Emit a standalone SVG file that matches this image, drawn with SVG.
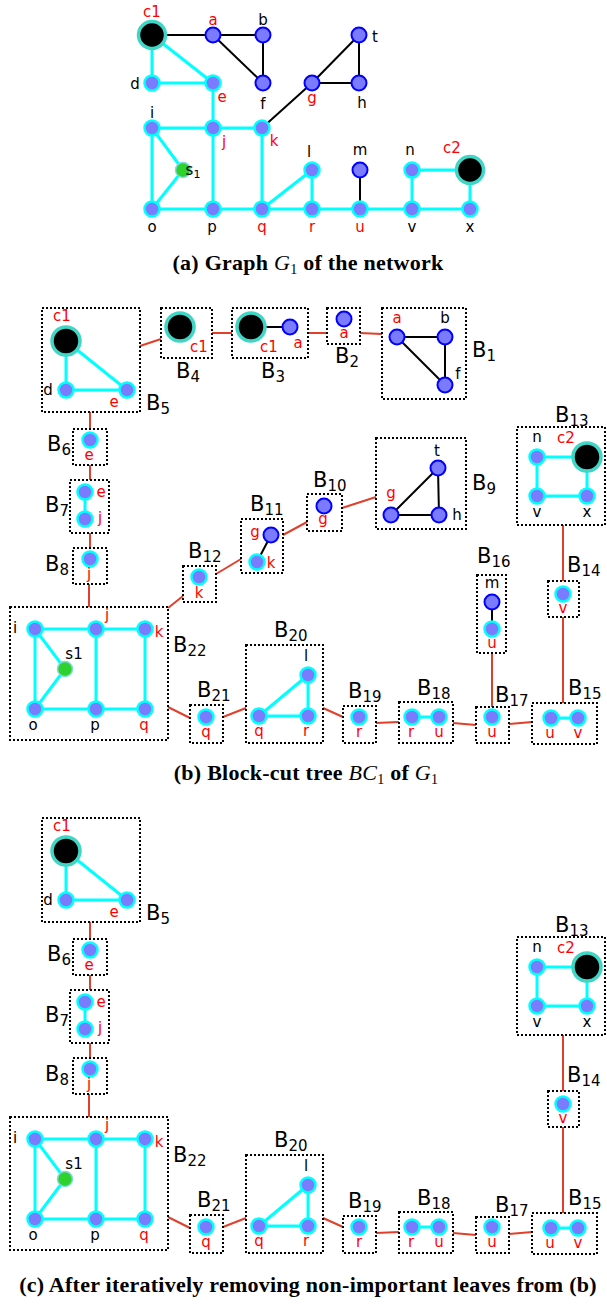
<svg xmlns="http://www.w3.org/2000/svg" width="607" height="1304" viewBox="0 0 607 1304">
<style>
.ce{stroke:#00ffff;stroke-width:3;fill:none}
.be{stroke:#000;stroke-width:2;fill:none}
.nb{fill:#7b7bff;stroke:#0000ff;stroke-width:2}
.nc{fill:#7b7bff;stroke:#00ffff;stroke-width:2.5}
.big{fill:#000;stroke:#3fd6c6;stroke-width:3.5}
.grn{fill:#2ed12e;stroke:#80d8d8;stroke-width:1.5}
.box{fill:none;stroke:#000;stroke-width:2;stroke-dasharray:2 2}
.rc{stroke:#e0402a;stroke-width:2;fill:none}
.lb{font-family:"DejaVu Sans",sans-serif;font-size:15px;fill:#000;text-anchor:middle}
.r{fill:#ff0000}
.bl{font-family:"DejaVu Sans",sans-serif;font-size:21px;fill:#000}
.cap{font-family:"Liberation Serif",serif;font-weight:bold;font-size:22px;letter-spacing:0.25px;text-anchor:middle;fill:#000}
.it{font-style:italic;font-weight:normal}
</style>

<!-- Part (a) -->
<g id="a-edges">
<line class="be" x1="152" y1="35" x2="213" y2="35"/>
<line class="be" x1="213" y1="35" x2="263" y2="35"/>
<line class="be" x1="213" y1="35" x2="263" y2="83"/>
<line class="be" x1="263" y1="35" x2="263" y2="83"/>
<line class="be" x1="312" y1="83" x2="359" y2="35"/>
<line class="be" x1="312" y1="83" x2="359" y2="83"/>
<line class="be" x1="359" y1="35" x2="359" y2="83"/>
<line class="be" x1="312" y1="83" x2="262" y2="128"/>
<line class="be" x1="360" y1="170" x2="360" y2="209"/>
<line class="ce" x1="152" y1="35" x2="152" y2="83"/>
<line class="ce" x1="152" y1="35" x2="213" y2="83"/>
<line class="ce" x1="152" y1="83" x2="213" y2="83"/>
<line class="ce" x1="213" y1="83" x2="213" y2="128"/>
<line class="ce" x1="152" y1="128" x2="262" y2="128"/>
<line class="ce" x1="152" y1="128" x2="152" y2="209"/>
<line class="ce" x1="152" y1="128" x2="183" y2="170"/>
<line class="ce" x1="152" y1="209" x2="183" y2="170"/>
<line class="ce" x1="213" y1="128" x2="213" y2="209"/>
<line class="ce" x1="262" y1="128" x2="262" y2="209"/>
<line class="ce" x1="152" y1="209" x2="470" y2="209"/>
<line class="ce" x1="262" y1="209" x2="312" y2="170"/>
<line class="ce" x1="312" y1="170" x2="312" y2="209"/>
<line class="ce" x1="412" y1="170" x2="412" y2="209"/>
<line class="ce" x1="412" y1="170" x2="470" y2="170"/>
<line class="ce" x1="470" y1="170" x2="470" y2="209"/>
</g>
<g id="a-c1"><circle class="big" cx="152" cy="35" r="13.5"/><text class="lb r" x="152" y="17" font-size="17">c1</text></g>
<g id="a-a"><circle class="nb" cx="213" cy="35" r="7.5"/><text class="lb r" x="213" y="25">a</text></g>
<g id="a-b"><circle class="nb" cx="263" cy="35" r="7.5"/><text class="lb" x="263" y="25">b</text></g>
<g id="a-f"><circle class="nb" cx="263" cy="83" r="7.5"/><text class="lb" x="263" y="109">f</text></g>
<g id="a-d"><circle class="nc" cx="152" cy="83" r="7.5"/><text class="lb" x="135" y="89">d</text></g>
<g id="a-e"><circle class="nc" cx="213" cy="83" r="7.5"/><text class="lb r" x="222" y="102">e</text></g>
<g id="a-t"><circle class="nb" cx="359" cy="35" r="7.5"/><text class="lb" x="375" y="42">t</text></g>
<g id="a-g"><circle class="nb" cx="312" cy="83" r="7.5"/><text class="lb r" x="312" y="103">g</text></g>
<g id="a-h"><circle class="nb" cx="359" cy="83" r="7.5"/><text class="lb" x="362" y="108">h</text></g>
<g id="a-i"><circle class="nc" cx="152" cy="128" r="7.5"/><text class="lb" x="152" y="118">i</text></g>
<g id="a-j"><circle class="nc" cx="213" cy="128" r="7.5"/><text class="lb r" x="224" y="147">j</text></g>
<g id="a-k"><circle class="nc" cx="262" cy="128" r="7.5"/><text class="lb r" x="274" y="146">k</text></g>
<g id="a-s1"><circle class="grn" cx="183" cy="170" r="7.5"/><text class="lb" x="193" y="175" text-anchor="start">s<tspan font-size="11" dy="3">1</tspan></text></g>
<g id="a-l"><circle class="nc" cx="312" cy="170" r="7.5"/><text class="lb" x="309" y="157">l</text></g>
<g id="a-m"><circle class="nb" cx="360" cy="170" r="7.5"/><text class="lb" x="360" y="155">m</text></g>
<g id="a-n"><circle class="nc" cx="412" cy="170" r="7.5"/><text class="lb" x="410" y="155">n</text></g>
<g id="a-c2"><circle class="big" cx="470" cy="170" r="13.5"/><text class="lb r" x="452" y="153" font-size="17">c2</text></g>
<g id="a-o"><circle class="nc" cx="152" cy="209" r="7.5"/><text class="lb" x="152" y="232">o</text></g>
<g id="a-p"><circle class="nc" cx="213" cy="209" r="7.5"/><text class="lb" x="212" y="232">p</text></g>
<g id="a-q"><circle class="nc" cx="262" cy="209" r="7.5"/><text class="lb r" x="262" y="232">q</text></g>
<g id="a-r"><circle class="nc" cx="312" cy="209" r="7.5"/><text class="lb r" x="312" y="232">r</text></g>
<g id="a-u"><circle class="nc" cx="360" cy="209" r="7.5"/><text class="lb r" x="360" y="232">u</text></g>
<g id="a-v"><circle class="nc" cx="412" cy="209" r="7.5"/><text class="lb" x="412" y="232">v</text></g>
<g id="a-x"><circle class="nc" cx="470" cy="209" r="7.5"/><text class="lb" x="470" y="232">x</text></g>
<text class="cap" x="308" y="270">(a) Graph <tspan class="it">G</tspan><tspan font-size="14" font-weight="normal" dy="4">1</tspan><tspan dy="-4"> of the network</tspan></text>

<!-- Part (b) -->
<g id="b-connectors">
<line class="rc" x1="140" y1="346" x2="161" y2="339"/>
<line class="rc" x1="212" y1="333" x2="232" y2="333"/>
<line class="rc" x1="308" y1="333" x2="327" y2="333"/>
<line class="rc" x1="360" y1="333" x2="382" y2="334"/>
<line class="rc" x1="90" y1="412" x2="90" y2="429"/>
<line class="rc" x1="90" y1="465" x2="90" y2="480"/>
<line class="rc" x1="90" y1="533" x2="90" y2="548"/>
<line class="rc" x1="89" y1="584" x2="89" y2="607"/>
<line class="rc" x1="168" y1="608" x2="183" y2="596"/>
<line class="rc" x1="216" y1="574" x2="241" y2="559"/>
<line class="rc" x1="283" y1="535" x2="307" y2="522"/>
<line class="rc" x1="342" y1="508" x2="376" y2="497"/>
<line class="rc" x1="168" y1="707" x2="190" y2="718"/>
<line class="rc" x1="223" y1="717" x2="246" y2="708"/>
<line class="rc" x1="323" y1="708" x2="343" y2="717"/>
<line class="rc" x1="376" y1="723" x2="399" y2="722"/>
<line class="rc" x1="453" y1="723" x2="476" y2="725"/>
<line class="rc" x1="509" y1="724" x2="532" y2="722"/>
<line class="rc" x1="492" y1="653" x2="492" y2="707"/>
<line class="rc" x1="563" y1="525" x2="563" y2="581"/>
<line class="rc" x1="563" y1="617" x2="563" y2="703"/>
</g>
<g id="b-B5">
<rect class="box" x="42" y="308" width="98" height="104"/>
<line class="ce" x1="66" y1="341" x2="66" y2="390"/><line class="ce" x1="66" y1="341" x2="127" y2="390"/><line class="ce" x1="66" y1="390" x2="127" y2="390"/>
<circle class="big" cx="66" cy="341" r="14"/><circle class="nc" cx="66" cy="390" r="7.5"/><circle class="nc" cx="127" cy="390" r="7.5"/>
<text class="lb r" x="62" y="321" font-size="17">c1</text><text class="lb" x="48" y="395">d</text><text class="lb r" x="114" y="407">e</text>
<text class="bl" x="146" y="410">B<tspan font-size="15" dy="4">5</tspan></text>
</g>
<g id="b-B4">
<rect class="box" x="161" y="308" width="51" height="50"/>
<circle class="big" cx="180" cy="327" r="14"/>
<text class="lb r" x="199" y="352" font-size="17">c1</text>
<text class="bl" x="176" y="378">B<tspan font-size="15" dy="4">4</tspan></text>
</g>
<g id="b-B3">
<rect class="box" x="232" y="308" width="76" height="50"/>
<line class="be" x1="251" y1="327" x2="290" y2="327"/>
<circle class="big" cx="251" cy="327" r="14"/><circle class="nb" cx="290" cy="327" r="7.5"/>
<text class="lb r" x="269" y="352" font-size="17">c1</text><text class="lb r" x="298" y="348">a</text>
<text class="bl" x="261" y="378">B<tspan font-size="15" dy="4">3</tspan></text>
</g>
<g id="b-B2">
<rect class="box" x="327" y="308" width="33" height="36"/>
<circle class="nb" cx="344" cy="319" r="7.5"/>
<text class="lb r" x="344" y="338">a</text>
<text class="bl" x="335" y="363">B<tspan font-size="15" dy="4">2</tspan></text>
</g>
<g id="b-B1">
<rect class="box" x="382" y="308" width="84" height="91"/>
<line class="be" x1="397" y1="337" x2="445" y2="337"/><line class="be" x1="397" y1="337" x2="445" y2="385"/><line class="be" x1="445" y1="337" x2="445" y2="385"/>
<circle class="nb" cx="397" cy="337" r="7.5"/><circle class="nb" cx="445" cy="337" r="7.5"/><circle class="nb" cx="445" cy="385" r="7.5"/>
<text class="lb r" x="397" y="323">a</text><text class="lb" x="445" y="323">b</text><text class="lb" x="458" y="379">f</text>
<text class="bl" x="472" y="357">B<tspan font-size="15" dy="4">1</tspan></text>
</g>
<g id="b-B6">
<rect class="box" x="73" y="429" width="34" height="36"/>
<circle class="nc" cx="90" cy="440" r="7.5"/>
<text class="lb r" x="89" y="460">e</text>
<text class="bl" x="47" y="451">B<tspan font-size="15" dy="4">6</tspan></text>
</g>
<g id="b-B7">
<rect class="box" x="70" y="480" width="39" height="53"/>
<line class="ce" x1="85" y1="492" x2="85" y2="519"/>
<circle class="nc" cx="85" cy="492" r="7.5"/><circle class="nc" cx="85" cy="519" r="7.5"/>
<text class="lb r" x="101" y="497">e</text><text class="lb r" x="100" y="523">j</text>
<text class="bl" x="45" y="512">B<tspan font-size="15" dy="4">7</tspan></text>
</g>
<g id="b-B8">
<rect class="box" x="73" y="548" width="34" height="36"/>
<circle class="nc" cx="90" cy="559" r="7.5"/>
<text class="lb r" x="89" y="579">j</text>
<text class="bl" x="45" y="571">B<tspan font-size="15" dy="4">8</tspan></text>
</g>
<g id="b-B22">
<rect class="box" x="10" y="607" width="158" height="133"/>
<line class="ce" x1="35" y1="629" x2="145" y2="629"/><line class="ce" x1="35" y1="709" x2="145" y2="709"/>
<line class="ce" x1="35" y1="629" x2="35" y2="709"/><line class="ce" x1="96" y1="629" x2="96" y2="709"/><line class="ce" x1="145" y1="629" x2="145" y2="709"/>
<line class="ce" x1="35" y1="629" x2="65" y2="669"/><line class="ce" x1="35" y1="709" x2="65" y2="669"/>
<circle class="nc" cx="35" cy="629" r="7.5"/><circle class="nc" cx="96" cy="629" r="7.5"/><circle class="nc" cx="145" cy="629" r="7.5"/>
<circle class="grn" cx="65" cy="669" r="7.5"/>
<circle class="nc" cx="35" cy="709" r="7.5"/><circle class="nc" cx="96" cy="709" r="7.5"/><circle class="nc" cx="145" cy="709" r="7.5"/>
<text class="lb" x="15" y="633">i</text><text class="lb r" x="107" y="620">j</text><text class="lb r" x="159" y="637">k</text>
<text class="lb" x="74" y="659">s1</text>
<text class="lb" x="33" y="730">o</text><text class="lb" x="95" y="730">p</text><text class="lb r" x="144" y="730">q</text>
<text class="bl" x="173" y="652">B<tspan font-size="15" dy="4">22</tspan></text>
</g>
<g id="b-B12">
<rect class="box" x="183" y="566" width="33" height="36"/>
<circle class="nc" cx="199" cy="577" r="7.5"/>
<text class="lb r" x="199" y="598">k</text>
<text class="bl" x="188" y="558">B<tspan font-size="15" dy="4">12</tspan></text>
</g>
<g id="b-B11">
<rect class="box" x="241" y="519" width="42" height="54"/>
<line class="be" x1="271" y1="535" x2="257" y2="562"/>
<circle class="nb" cx="271" cy="535" r="7.5"/><circle class="nc" cx="257" cy="562" r="7.5"/>
<text class="lb r" x="255" y="537">g</text><text class="lb r" x="271" y="568">k</text>
<text class="bl" x="250" y="511">B<tspan font-size="15" dy="4">11</tspan></text>
</g>
<g id="b-B10">
<rect class="box" x="307" y="494" width="35" height="37"/>
<circle class="nb" cx="324" cy="506" r="7.5"/>
<text class="lb r" x="323" y="524">g</text>
<text class="bl" x="313" y="487">B<tspan font-size="15" dy="4">10</tspan></text>
</g>
<g id="b-B9">
<rect class="box" x="376" y="438" width="90" height="91"/>
<line class="be" x1="438" y1="468" x2="391" y2="515"/><line class="be" x1="391" y1="515" x2="439" y2="515"/><line class="be" x1="438" y1="468" x2="439" y2="515"/>
<circle class="nb" cx="438" cy="468" r="7.5"/><circle class="nb" cx="391" cy="515" r="7.5"/><circle class="nb" cx="439" cy="515" r="7.5"/>
<text class="lb" x="437" y="456">t</text><text class="lb r" x="391" y="498">g</text><text class="lb" x="457" y="520">h</text>
<text class="bl" x="472" y="490">B<tspan font-size="15" dy="4">9</tspan></text>
</g>
<g id="b-B13">
<rect class="box" x="517" y="427" width="88" height="98"/>
<line class="ce" x1="537" y1="457" x2="587" y2="457"/><line class="ce" x1="537" y1="496" x2="587" y2="496"/>
<line class="ce" x1="537" y1="457" x2="537" y2="496"/><line class="ce" x1="587" y1="457" x2="587" y2="496"/>
<circle class="nc" cx="537" cy="457" r="7.5"/><circle class="big" cx="587" cy="457" r="14"/>
<circle class="nc" cx="537" cy="496" r="7.5"/><circle class="nc" cx="587" cy="496" r="7.5"/>
<text class="lb" x="537" y="442">n</text><text class="lb r" x="566" y="443" font-size="17">c2</text>
<text class="lb" x="537" y="517">v</text><text class="lb" x="587" y="517">x</text>
<text class="bl" x="555" y="422">B<tspan font-size="15" dy="4">13</tspan></text>
</g>
<g id="b-B14">
<rect class="box" x="548" y="581" width="31" height="36"/>
<circle class="nc" cx="563" cy="594" r="7.5"/>
<text class="lb r" x="563" y="613">v</text>
<text class="bl" x="567" y="572">B<tspan font-size="15" dy="4">14</tspan></text>
</g>
<g id="b-B16">
<rect class="box" x="477" y="575" width="29" height="78"/>
<line class="be" x1="492" y1="602" x2="492" y2="629"/>
<circle class="nb" cx="492" cy="602" r="7.5"/><circle class="nc" cx="492" cy="629" r="7.5"/>
<text class="lb" x="492" y="588">m</text><text class="lb r" x="492" y="648">u</text>
<text class="bl" x="477" y="563">B<tspan font-size="15" dy="4">16</tspan></text>
</g>
<g id="b-B17">
<rect class="box" x="476" y="707" width="33" height="36"/>
<circle class="nc" cx="492" cy="717" r="7.5"/>
<text class="lb r" x="492" y="737">u</text>
<text class="bl" x="495" y="702">B<tspan font-size="15" dy="4">17</tspan></text>
</g>
<g id="b-B15">
<rect class="box" x="532" y="703" width="65" height="41"/>
<line class="ce" x1="551" y1="718" x2="578" y2="718"/>
<circle class="nc" cx="551" cy="718" r="7.5"/><circle class="nc" cx="578" cy="718" r="7.5"/>
<text class="lb r" x="550" y="738">u</text><text class="lb r" x="578" y="738">v</text>
<text class="bl" x="568" y="695">B<tspan font-size="15" dy="4">15</tspan></text>
</g>
<g id="b-B18">
<rect class="box" x="399" y="702" width="54" height="41"/>
<line class="ce" x1="412" y1="717" x2="439" y2="717"/>
<circle class="nc" cx="412" cy="717" r="7.5"/><circle class="nc" cx="439" cy="717" r="7.5"/>
<text class="lb r" x="411" y="737">r</text><text class="lb r" x="439" y="737">u</text>
<text class="bl" x="417" y="695">B<tspan font-size="15" dy="4">18</tspan></text>
</g>
<g id="b-B19">
<rect class="box" x="343" y="706" width="33" height="37"/>
<circle class="nc" cx="359" cy="717" r="7.5"/>
<text class="lb r" x="359" y="737">r</text>
<text class="bl" x="348" y="698">B<tspan font-size="15" dy="4">19</tspan></text>
</g>
<g id="b-B20">
<rect class="box" x="246" y="645" width="77" height="98"/>
<line class="ce" x1="259" y1="716" x2="308" y2="716"/><line class="ce" x1="259" y1="716" x2="308" y2="675"/><line class="ce" x1="308" y1="675" x2="308" y2="716"/>
<circle class="nc" cx="259" cy="716" r="7.5"/><circle class="nc" cx="308" cy="716" r="7.5"/><circle class="nc" cx="308" cy="675" r="7.5"/>
<text class="lb r" x="259" y="736">q</text><text class="lb r" x="306" y="736">r</text><text class="lb" x="306" y="661">l</text>
<text class="bl" x="274" y="637">B<tspan font-size="15" dy="4">20</tspan></text>
</g>
<g id="b-B21">
<rect class="box" x="190" y="705" width="33" height="38"/>
<circle class="nc" cx="206" cy="717" r="7.5"/>
<text class="lb r" x="206" y="737">q</text>
<text class="bl" x="197" y="697">B<tspan font-size="15" dy="4">21</tspan></text>
</g>
<text class="cap" x="306" y="780">(b) Block-cut tree <tspan class="it">BC</tspan><tspan font-size="14" font-weight="normal" dy="4">1</tspan><tspan dy="-4"> of </tspan><tspan class="it">G</tspan><tspan font-size="14" font-weight="normal" dy="4">1</tspan></text>

<!-- Part (c) -->
<g id="part-c" transform="translate(0,510)">
<g id="c-connectors">
<line class="rc" x1="90" y1="412" x2="90" y2="429"/>
<line class="rc" x1="90" y1="465" x2="90" y2="480"/>
<line class="rc" x1="90" y1="533" x2="90" y2="548"/>
<line class="rc" x1="89" y1="584" x2="89" y2="607"/>
<line class="rc" x1="168" y1="707" x2="190" y2="718"/>
<line class="rc" x1="223" y1="717" x2="246" y2="708"/>
<line class="rc" x1="323" y1="708" x2="343" y2="717"/>
<line class="rc" x1="376" y1="723" x2="399" y2="722"/>
<line class="rc" x1="453" y1="723" x2="476" y2="725"/>
<line class="rc" x1="509" y1="724" x2="532" y2="722"/>
<line class="rc" x1="563" y1="525" x2="563" y2="581"/>
<line class="rc" x1="563" y1="617" x2="563" y2="703"/>
</g>
<g id="c-B5">
<rect class="box" x="42" y="308" width="98" height="104"/>
<line class="ce" x1="66" y1="341" x2="66" y2="390"/><line class="ce" x1="66" y1="341" x2="127" y2="390"/><line class="ce" x1="66" y1="390" x2="127" y2="390"/>
<circle class="big" cx="66" cy="341" r="14"/><circle class="nc" cx="66" cy="390" r="7.5"/><circle class="nc" cx="127" cy="390" r="7.5"/>
<text class="lb r" x="62" y="321" font-size="17">c1</text><text class="lb" x="48" y="395">d</text><text class="lb r" x="114" y="407">e</text>
<text class="bl" x="146" y="410">B<tspan font-size="15" dy="4">5</tspan></text>
</g>
<g id="c-B6">
<rect class="box" x="73" y="429" width="34" height="36"/>
<circle class="nc" cx="90" cy="440" r="7.5"/>
<text class="lb r" x="89" y="460">e</text>
<text class="bl" x="47" y="451">B<tspan font-size="15" dy="4">6</tspan></text>
</g>
<g id="c-B7">
<rect class="box" x="70" y="480" width="39" height="53"/>
<line class="ce" x1="85" y1="492" x2="85" y2="519"/>
<circle class="nc" cx="85" cy="492" r="7.5"/><circle class="nc" cx="85" cy="519" r="7.5"/>
<text class="lb r" x="101" y="497">e</text><text class="lb r" x="100" y="523">j</text>
<text class="bl" x="45" y="512">B<tspan font-size="15" dy="4">7</tspan></text>
</g>
<g id="c-B8">
<rect class="box" x="73" y="548" width="34" height="36"/>
<circle class="nc" cx="90" cy="559" r="7.5"/>
<text class="lb r" x="89" y="579">j</text>
<text class="bl" x="45" y="571">B<tspan font-size="15" dy="4">8</tspan></text>
</g>
<g id="c-B22">
<rect class="box" x="10" y="607" width="158" height="133"/>
<line class="ce" x1="35" y1="629" x2="145" y2="629"/><line class="ce" x1="35" y1="709" x2="145" y2="709"/>
<line class="ce" x1="35" y1="629" x2="35" y2="709"/><line class="ce" x1="96" y1="629" x2="96" y2="709"/><line class="ce" x1="145" y1="629" x2="145" y2="709"/>
<line class="ce" x1="35" y1="629" x2="65" y2="669"/><line class="ce" x1="35" y1="709" x2="65" y2="669"/>
<circle class="nc" cx="35" cy="629" r="7.5"/><circle class="nc" cx="96" cy="629" r="7.5"/><circle class="nc" cx="145" cy="629" r="7.5"/>
<circle class="grn" cx="65" cy="669" r="7.5"/>
<circle class="nc" cx="35" cy="709" r="7.5"/><circle class="nc" cx="96" cy="709" r="7.5"/><circle class="nc" cx="145" cy="709" r="7.5"/>
<text class="lb" x="15" y="633">i</text><text class="lb r" x="107" y="620">j</text><text class="lb r" x="159" y="637">k</text>
<text class="lb" x="74" y="659">s1</text>
<text class="lb" x="33" y="730">o</text><text class="lb" x="95" y="730">p</text><text class="lb r" x="144" y="730">q</text>
<text class="bl" x="173" y="652">B<tspan font-size="15" dy="4">22</tspan></text>
</g>
<g id="c-B13">
<rect class="box" x="517" y="427" width="88" height="98"/>
<line class="ce" x1="537" y1="457" x2="587" y2="457"/><line class="ce" x1="537" y1="496" x2="587" y2="496"/>
<line class="ce" x1="537" y1="457" x2="537" y2="496"/><line class="ce" x1="587" y1="457" x2="587" y2="496"/>
<circle class="nc" cx="537" cy="457" r="7.5"/><circle class="big" cx="587" cy="457" r="14"/>
<circle class="nc" cx="537" cy="496" r="7.5"/><circle class="nc" cx="587" cy="496" r="7.5"/>
<text class="lb" x="537" y="442">n</text><text class="lb r" x="566" y="443" font-size="17">c2</text>
<text class="lb" x="537" y="517">v</text><text class="lb" x="587" y="517">x</text>
<text class="bl" x="555" y="422">B<tspan font-size="15" dy="4">13</tspan></text>
</g>
<g id="c-B14">
<rect class="box" x="548" y="581" width="31" height="36"/>
<circle class="nc" cx="563" cy="594" r="7.5"/>
<text class="lb r" x="563" y="613">v</text>
<text class="bl" x="567" y="572">B<tspan font-size="15" dy="4">14</tspan></text>
</g>
<g id="c-B17">
<rect class="box" x="476" y="707" width="33" height="36"/>
<circle class="nc" cx="492" cy="717" r="7.5"/>
<text class="lb r" x="492" y="737">u</text>
<text class="bl" x="495" y="702">B<tspan font-size="15" dy="4">17</tspan></text>
</g>
<g id="c-B15">
<rect class="box" x="532" y="703" width="65" height="41"/>
<line class="ce" x1="551" y1="718" x2="578" y2="718"/>
<circle class="nc" cx="551" cy="718" r="7.5"/><circle class="nc" cx="578" cy="718" r="7.5"/>
<text class="lb r" x="550" y="738">u</text><text class="lb r" x="578" y="738">v</text>
<text class="bl" x="568" y="695">B<tspan font-size="15" dy="4">15</tspan></text>
</g>
<g id="c-B18">
<rect class="box" x="399" y="702" width="54" height="41"/>
<line class="ce" x1="412" y1="717" x2="439" y2="717"/>
<circle class="nc" cx="412" cy="717" r="7.5"/><circle class="nc" cx="439" cy="717" r="7.5"/>
<text class="lb r" x="411" y="737">r</text><text class="lb r" x="439" y="737">u</text>
<text class="bl" x="417" y="695">B<tspan font-size="15" dy="4">18</tspan></text>
</g>
<g id="c-B19">
<rect class="box" x="343" y="706" width="33" height="37"/>
<circle class="nc" cx="359" cy="717" r="7.5"/>
<text class="lb r" x="359" y="737">r</text>
<text class="bl" x="348" y="698">B<tspan font-size="15" dy="4">19</tspan></text>
</g>
<g id="c-B20">
<rect class="box" x="246" y="645" width="77" height="98"/>
<line class="ce" x1="259" y1="716" x2="308" y2="716"/><line class="ce" x1="259" y1="716" x2="308" y2="675"/><line class="ce" x1="308" y1="675" x2="308" y2="716"/>
<circle class="nc" cx="259" cy="716" r="7.5"/><circle class="nc" cx="308" cy="716" r="7.5"/><circle class="nc" cx="308" cy="675" r="7.5"/>
<text class="lb r" x="259" y="736">q</text><text class="lb r" x="306" y="736">r</text><text class="lb" x="306" y="661">l</text>
<text class="bl" x="274" y="637">B<tspan font-size="15" dy="4">20</tspan></text>
</g>
<g id="c-B21">
<rect class="box" x="190" y="705" width="33" height="38"/>
<circle class="nc" cx="206" cy="717" r="7.5"/>
<text class="lb r" x="206" y="737">q</text>
<text class="bl" x="197" y="697">B<tspan font-size="15" dy="4">21</tspan></text>
</g>
</g>
<text class="cap" x="308" y="1292">(c) After iteratively removing non-important leaves from (b)</text>
</svg>
